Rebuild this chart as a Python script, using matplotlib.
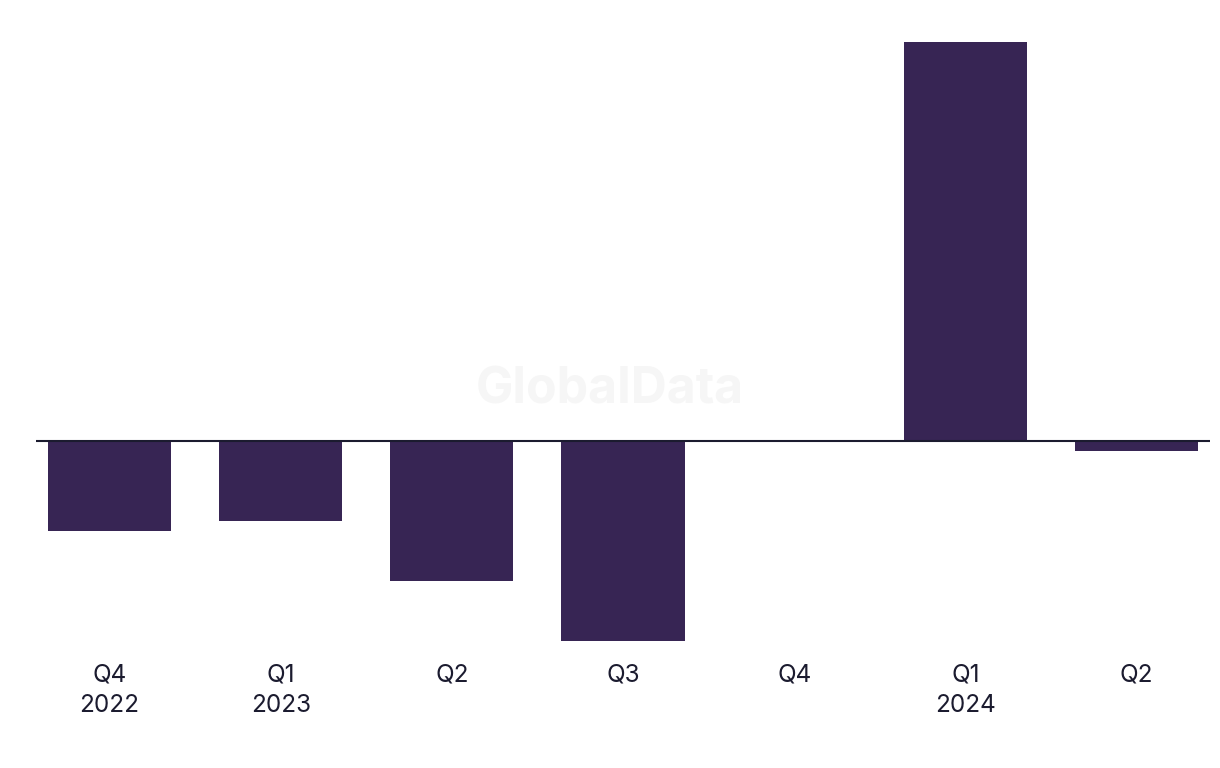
import matplotlib.pyplot as plt

# Quarterly values (arbitrary units)
quarters = ['Q4', 'Q1', 'Q2', 'Q3', 'Q4', 'Q1', 'Q2']
years = ['2022', '2023', '', '', '', '2024', '']
values = [-90, -80, -140, -200, 0, 399, -10]

bar_color = '#372554'
text_color = '#1b1b2f'

plt.rcParams['font.family'] = ['Inter', 'DejaVu Sans']

fig = plt.figure(figsize=(12.2, 7.68), dpi=100)
ax = fig.add_axes([36 / 1220, (768 - 641) / 768, 1174 / 1220, 611 / 768])

x = range(len(values))
ax.bar(x, values, width=0.72, color=bar_color, zorder=2)
ax.axhline(0, color=text_color, lw=1.5, zorder=3)

ax.set_xlim(-0.43, 6.43)
ax.set_ylim(-200, 411)

labels = [q if not y else q + '\n' + y for q, y in zip(quarters, years)]
ax.set_xticks(list(x))
ax.set_xticklabels(labels, fontsize=17.5, color=text_color, linespacing=1.42)
ax.tick_params(axis='x', length=0, pad=16)
ax.set_yticks([])
for s in ax.spines.values():
    s.set_visible(False)

# faint watermark
ax.text(0.489, 0.41, 'GlobalData', transform=ax.transAxes, ha='center', va='center',
        fontsize=36, fontweight='bold', color='#f6f6f6', zorder=1)

fig.savefig('out.png', dpi=100)
